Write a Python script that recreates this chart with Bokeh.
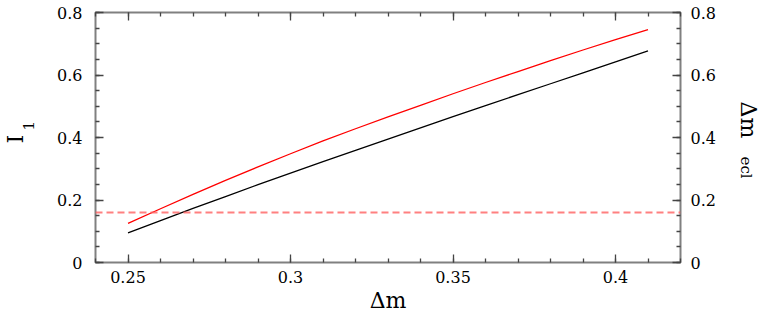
from bokeh.plotting import figure
from bokeh.models import (LinearAxis, FixedTicker, CustomJSTickFormatter, Span, Title,
                          Range1d)
from bokeh.embed import file_html
from bokeh.resources import INLINE
import numpy as np

# ---- data ----
delta_m = [0.25, 0.26, 0.27, 0.28, 0.29, 0.30, 0.31, 0.32, 0.33,
           0.34, 0.35, 0.36, 0.37, 0.38, 0.39, 0.40, 0.41]
i1_red = [0.125, 0.172, 0.218, 0.263, 0.306, 0.348, 0.389, 0.428, 0.466,
          0.503, 0.540, 0.576, 0.611, 0.646, 0.680, 0.713, 0.745]
dm_ecl_black = [0.095, 0.134, 0.173, 0.211, 0.249, 0.286, 0.323, 0.359, 0.395,
                0.431, 0.467, 0.502, 0.537, 0.572, 0.607, 0.642, 0.677]
threshold = 0.16
x_ticks = [0.25, 0.3, 0.35, 0.4]
y_ticks = [0, 0.2, 0.4, 0.6, 0.8]

FONT = "DejaVu Serif"

p = figure(frame_width=585, frame_height=250,
           x_range=Range1d(0.24, 0.42), y_range=Range1d(0, 0.8),
           output_backend="svg", toolbar_location=None,
           min_border_left=95, min_border_right=83,
           min_border_top=12, min_border_bottom=56)
p.xaxis.visible = False
p.yaxis.visible = False
p.xgrid.visible = False
p.ygrid.visible = False
p.outline_line_color = "#808080"
p.outline_line_width = 2

x_minor = [round(v, 2) for v in np.arange(0.24, 0.4201, 0.01)]
y_minor = [round(v, 2) for v in np.arange(0.0, 0.8001, 0.05)]
fmt = CustomJSTickFormatter(code="return tick.toString();")
blank = CustomJSTickFormatter(code="return '';")

def style(ax):
    ax.axis_line_color = None
    ax.major_tick_in = 8
    ax.major_tick_out = 0
    ax.minor_tick_in = 4
    ax.minor_tick_out = 0
    ax.major_tick_line_color = "#444444"
    ax.minor_tick_line_color = "#444444"
    ax.major_tick_line_width = 1.3
    ax.minor_tick_line_width = 1.3
    ax.major_label_text_font = FONT
    ax.major_label_text_font_size = "16px"
    ax.major_label_text_color = "black"

xb = LinearAxis(ticker=FixedTicker(ticks=x_ticks, minor_ticks=x_minor), formatter=fmt)
style(xb)
xb.major_label_standoff = 8
xb.axis_label = "Δm"
xb.axis_label_text_font = FONT
xb.axis_label_text_font_size = "22px"
xb.axis_label_text_font_style = "normal"
xb.axis_label_text_color = "black"
xb.axis_label_standoff = 2
p.add_layout(xb, "below")

xt = LinearAxis(ticker=FixedTicker(ticks=x_ticks, minor_ticks=x_minor), formatter=blank)
style(xt)
xt.major_label_standoff = 0
p.add_layout(xt, "above")

yl = LinearAxis(ticker=FixedTicker(ticks=y_ticks, minor_ticks=y_minor), formatter=fmt)
style(yl)
yl.major_label_standoff = 13
p.add_layout(yl, "left")

yr = LinearAxis(ticker=FixedTicker(ticks=y_ticks, minor_ticks=y_minor), formatter=fmt)
style(yr)
yr.major_label_standoff = 10
p.add_layout(yr, "right")

def title(text, size, offset, standoff):
    return Title(text=text, align="left", offset=offset, standoff=standoff,
                 text_font=FONT, text_font_size=size, text_font_style="normal",
                 text_color="black")

p.add_layout(title("1", "15px", 132, 41), "left")
p.add_layout(title("I", "22px", 119, -54), "left")
p.add_layout(title("ecl", "15px", 144, 36), "right")
p.add_layout(title("Δm", "22px", 89, -78), "right")

p.line(delta_m, dm_ecl_black, line_color="black", line_width=1.3)
p.line(delta_m, i1_red, line_color="#ff0000", line_width=1.3)
p.add_layout(Span(location=threshold, dimension="width", line_color="#ff6060",
                  line_alpha=0.8, line_width=1.8, line_dash="7 4"))

open("out.html", "w").write(file_html(p, INLINE))
